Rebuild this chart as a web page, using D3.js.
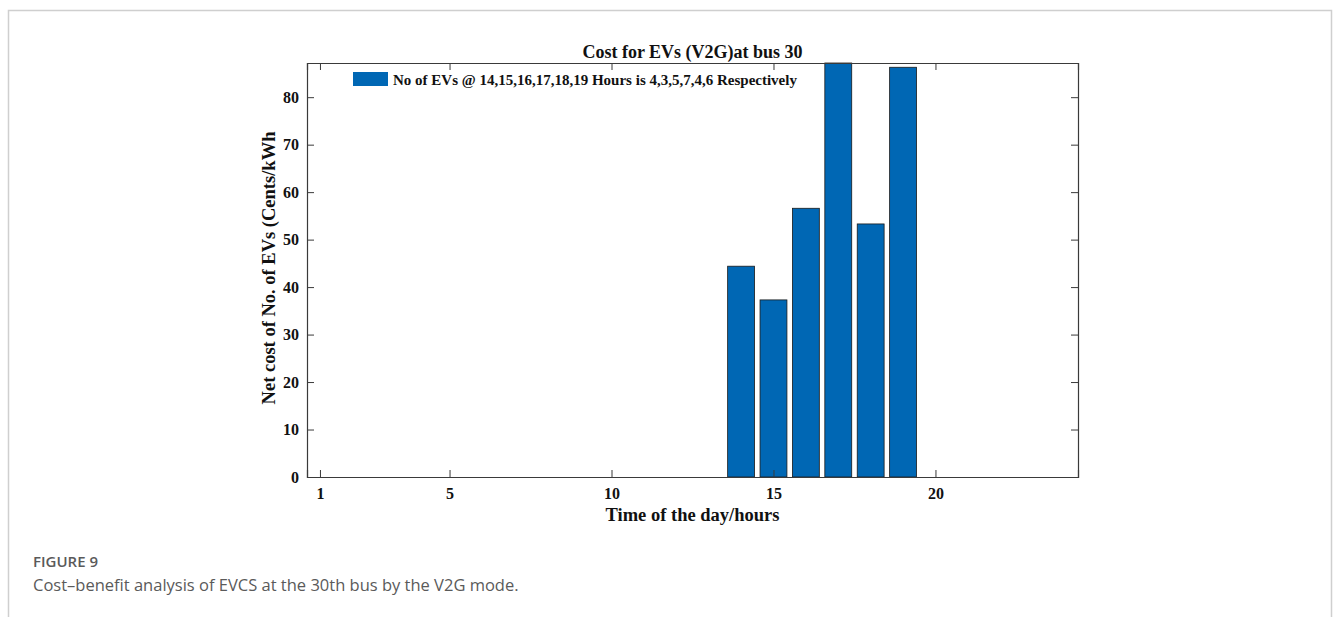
<!DOCTYPE html>
<html>
<head>
<meta charset="utf-8">
<script src="https://cdn.jsdelivr.net/npm/d3@7"></script>
<style>
  html, body { margin: 0; padding: 0; background: #fff; }
  svg { display: block; }
</style>
</head>
<body>
<svg id="chart" width="1333" height="617"></svg>
<script>
// Hours with EVs discharging to the grid and the net cost at each hour
const hours = [14, 15, 16, 17, 18, 19];
const netCost = [44.4, 37.3, 56.6, 87.2, 53.3, 86.3];
const xTicks = [1, 5, 10, 15, 20];
const yTicks = [0, 10, 20, 30, 40, 50, 60, 70, 80];
const xDomain = [0.6, 24.4];
const yDomain = [0, 87.2];

const titleText = "Cost for EVs (V2G)at bus 30";
const legendText = "No of EVs @ 14,15,16,17,18,19 Hours is 4,3,5,7,4,6 Respectively";
const xLabel = "Time of the day/hours";
const yLabel = "Net cost of No. of EVs (Cents/kWh";
const figLabel = "FIGURE 9";
const captionText = "Cost\u2013benefit analysis of EVCS at the 30th bus by the V2G mode.";

const svg = d3.select("#chart");
const serif = "'Liberation Serif', 'Times New Roman', serif";
const sans = "'Open Sans', 'Noto Sans', sans-serif";
const barColor = "#0067b4";
const axisColor = "#3a3a3a";

// Page frame around the figure
svg.append("path")
  .attr("d", "M8.5,617 L8.5,10.5 L1331.5,10.5 L1331.5,617")
  .attr("fill", "none")
  .attr("stroke", "#cfcfcf")
  .attr("stroke-width", 1.5);

const plot = { left: 307, right: 1078, top: 63, bottom: 477 };

const x = d3.scaleLinear().domain(xDomain).range([plot.left, plot.right]);
const y = d3.scaleLinear().domain(yDomain).range([plot.bottom, plot.top]);

// Bars
const barW = (x(1) - x(0)) * 0.83;
svg.append("g").selectAll("rect")
  .data(hours.map((h, i) => ({ h, v: netCost[i] })))
  .join("rect")
  .attr("x", d => x(d.h) - barW / 2)
  .attr("y", d => y(d.v))
  .attr("width", barW)
  .attr("height", d => y(0) - y(d.v))
  .attr("fill", barColor)
  .attr("stroke", "#1a1a1a")
  .attr("stroke-width", 0.8);

// Axes: bottom/left with labels, top/right tick marks only (box on, ticks inward)
const tickLen = 7;
const fontTick = `bold 16px ${serif}`;

const axB = svg.append("g").attr("transform", `translate(0,${plot.bottom})`)
  .call(d3.axisBottom(x).tickValues(xTicks).tickSize(-tickLen).tickPadding(11));
const axT = svg.append("g").attr("transform", `translate(0,${plot.top})`)
  .call(d3.axisTop(x).tickValues(xTicks).tickSize(-tickLen).tickFormat(""));
const axL = svg.append("g").attr("transform", `translate(${plot.left},0)`)
  .call(d3.axisLeft(y).tickValues(yTicks).tickSize(-tickLen).tickPadding(8));
const axR = svg.append("g").attr("transform", `translate(${plot.right},0)`)
  .call(d3.axisRight(y).tickValues(yTicks).tickSize(-tickLen).tickFormat(""));

[axB, axT, axL, axR].forEach(g => {
  g.select(".domain").attr("stroke", axisColor).attr("stroke-width", 1.2);
  g.selectAll(".tick line").attr("stroke", axisColor).attr("stroke-width", 1);
  g.selectAll(".tick text").attr("fill", "#111").style("font", fontTick);
});
// Zero ticks coincide with the bottom edge of the box
axL.selectAll(".tick").filter(d => d === 0).select("line").remove();
axR.selectAll(".tick").filter(d => d === 0).select("line").remove();

// Title
svg.append("text")
  .attr("x", (plot.left + plot.right) / 2)
  .attr("y", 58)
  .attr("text-anchor", "middle")
  .style("font", `bold 18px ${serif}`)
  .attr("fill", "#111")
  .text(titleText);

// Legend
svg.append("rect")
  .attr("x", 353).attr("y", 72)
  .attr("width", 35).attr("height", 14)
  .attr("fill", barColor);
svg.append("text")
  .attr("x", 393).attr("y", 84.5)
  .style("font", `bold 15px ${serif}`)
  .attr("fill", "#111")
  .text(legendText);

// Axis titles
svg.append("text")
  .attr("x", (plot.left + plot.right) / 2)
  .attr("y", 521)
  .attr("text-anchor", "middle")
  .style("font", `bold 18.5px ${serif}`)
  .attr("fill", "#111")
  .text(xLabel);

svg.append("text")
  .attr("transform", `translate(275,${(plot.top + plot.bottom) / 2 - 2}) rotate(-90)`)
  .attr("text-anchor", "middle")
  .style("font", `bold 18.5px ${serif}`)
  .attr("fill", "#111")
  .text(yLabel);

// Figure caption
svg.append("text")
  .attr("x", 33).attr("y", 567)
  .style("font", `600 15px ${sans}`)
  .attr("fill", "#5a5a5a")
  .text(figLabel);
svg.append("text")
  .attr("x", 33).attr("y", 591)
  .style("font", `16.5px ${sans}`)
  .attr("fill", "#5a5a5a")
  .text(captionText);
</script>
</body>
</html>
